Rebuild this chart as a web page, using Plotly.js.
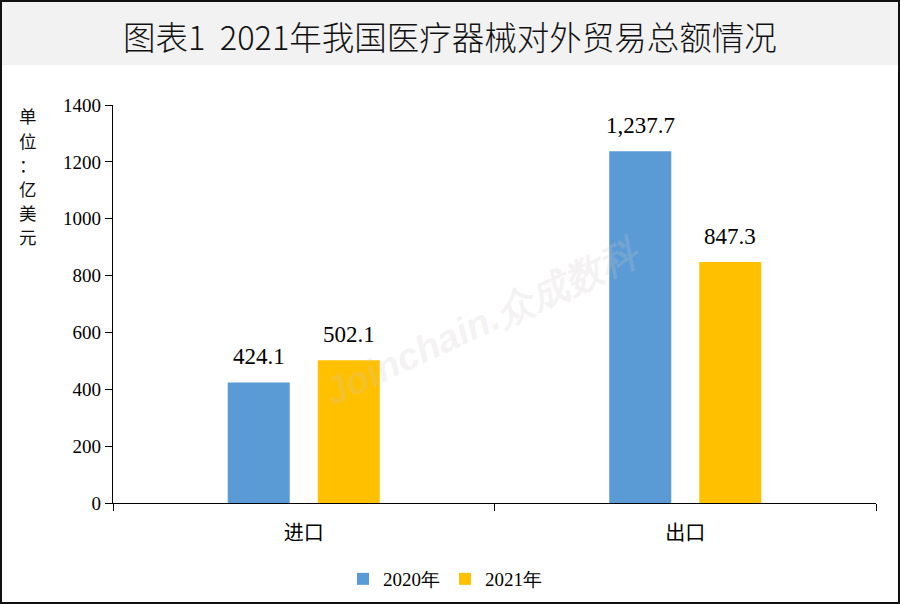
<!DOCTYPE html>
<html><head><meta charset="utf-8">
<script src="https://cdn.plot.ly/plotly-3.0.1.min.js"></script>
<style>html,body{margin:0;padding:0;background:#fff}#chart{width:900px;height:604px}</style>
</head><body><div id="chart"></div>
<script>
const categories = ["进口", "出口"];
const series2020 = [424.1, 1237.7];
const series2021 = [502.1, 847.3];
const labels2020 = ["424.1", "1,237.7"];
const labels2021 = ["502.1", "847.3"];
const seriesNames = ["2020年", "2021年"];
const yTicks = [0, 200, 400, 600, 800, 1000, 1200, 1400];
const unitChars = ["单", "位", "：", "亿", "美", "元"];

const serif = "Liberation Serif, Times New Roman, serif";
const cjk = "Noto Sans CJK SC, sans-serif";

const W = 900, H = 604, ML = 113, MR = 24, MT = 105, MB = 101;
const pw = W - ML - MR, ph = H - MT - MB;
const px = v => (v - ML) / pw, py = v => (H - MB - v) / ph;

const traces = [
  {type: "bar", x: categories, y: series2020, name: seriesNames[0], marker: {color: "#5B9BD5"}, hoverinfo: "none"},
  {type: "bar", x: categories, y: series2021, name: seriesNames[1], marker: {color: "#FFC000"}, hoverinfo: "none"}
];

const annotations = [];
categories.forEach((c, i) => {
  annotations.push({x: c, y: series2020[i], xref: "x", yref: "y", text: labels2020[i], showarrow: false, xshift: -45, yshift: 26, font: {family: serif, size: 23, color: "#000"}});
  annotations.push({x: c, y: series2021[i], xref: "x", yref: "y", text: labels2021[i], showarrow: false, xshift: 45, yshift: 26, font: {family: serif, size: 23, color: "#000"}});
});
annotations.push({xref: "paper", yref: "paper", x: px(450), y: py(36), xanchor: "center", yanchor: "middle", text: "图表1  2021年我国医疗器械对外贸易总额情况", showarrow: false, font: {family: cjk, size: 32.5, weight: 300, color: "#111"}});
unitChars.forEach((ch, i) => {
  annotations.push({xref: "paper", yref: "paper", x: px(28), y: py(116 + i * 24), xanchor: "center", yanchor: "middle", text: ch, showarrow: false, font: {family: cjk, size: 17.5, color: "#111"}});
});
annotations.push({xref: "paper", yref: "paper", x: px(482), y: py(322), xanchor: "center", yanchor: "middle", text: "<b><i>Joinchain.众成数科</i></b>", showarrow: false, textangle: -25, font: {family: "Liberation Sans, sans-serif", size: 38, color: "rgba(205,200,200,0.22)"}});

const layout = {
  width: W, height: H,
  margin: {l: ML, r: MR, t: MT, b: MB, autoexpand: false},
  paper_bgcolor: "#fff", plot_bgcolor: "#fff",
  barmode: "group", bargap: 0.528, bargroupgap: 0.311,
  showlegend: true,
  legend: {orientation: "h", x: px(445), xanchor: "center", y: py(579), yanchor: "middle", font: {family: serif, size: 19, color: "#000"}, itemwidth: 30, traceorder: "normal", tracegroupgap: 0},
  xaxis: {type: "category", automargin: false, showline: true, linecolor: "#000", linewidth: 1.2, ticks: "outside", tickson: "boundaries", ticklen: 7, tickcolor: "#000", ticklabelstandoff: 12, tickfont: {family: cjk, size: 20, color: "#000"}, showgrid: false, zeroline: false, fixedrange: true},
  yaxis: {range: [0, 1400], automargin: false, tickvals: yTicks, ticktext: yTicks.map(String), showline: true, linecolor: "#000", linewidth: 1.2, ticks: "outside", ticklen: 7, tickcolor: "#000", tickfont: {family: serif, size: 19, color: "#000"}, showgrid: false, zeroline: false, fixedrange: true},
  shapes: [
    {type: "rect", xref: "paper", yref: "paper", x0: px(1), x1: px(899), y0: py(65), y1: py(1), fillcolor: "#F2F2F2", line: {width: 0}, layer: "below"},
    {type: "rect", xref: "paper", yref: "paper", x0: px(1), x1: px(899), y0: py(603), y1: py(1), fillcolor: "rgba(0,0,0,0)", line: {width: 2, color: "#111"}, layer: "above"}
  ],
  annotations: annotations
};
Plotly.newPlot("chart", traces, layout, {displayModeBar: false, staticPlot: true});
</script></body></html>
